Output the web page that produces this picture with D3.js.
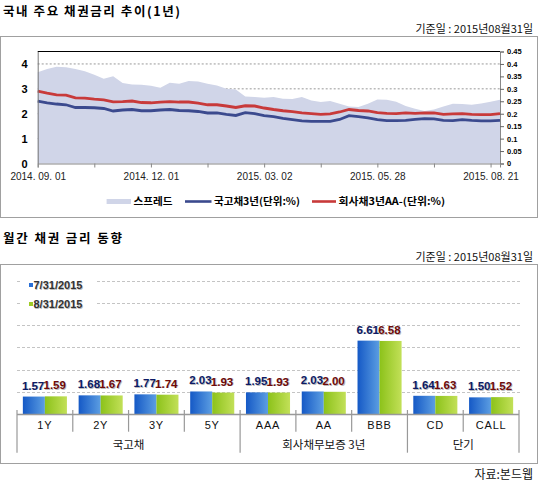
<!DOCTYPE html>
<html><head><meta charset="utf-8">
<script src="https://cdn.jsdelivr.net/npm/d3@7"></script>
<style>
body{margin:0;background:#fff;}
svg text{font-family:"Liberation Sans",Arial,sans-serif;}
svg text.kr{font-family:"Noto Sans CJK KR","Noto Sans",sans-serif;}
</style></head><body>
<svg id="c" width="548" height="486"></svg>
<script>
const spread = [0.367,0.380,0.389,0.387,0.380,0.371,0.357,0.341,0.351,0.323,
                0.317,0.316,0.312,0.304,0.324,0.320,0.331,0.329,0.320,0.313,
                0.300,0.297,0.269,0.267,0.264,0.267,0.260,0.259,0.267,0.253,
                0.247,0.251,0.240,0.229,0.227,0.240,0.257,0.256,0.248,0.231,
                0.220,0.211,0.217,0.229,0.240,0.239,0.236,0.241,0.248,0.256];
const govt3y = [2.51,2.44,2.39,2.36,2.25,2.25,2.24,2.21,2.11,2.15,
                2.17,2.12,2.12,2.15,2.17,2.13,2.12,2.09,2.03,2.03,
                1.97,1.93,2.04,2.00,1.92,1.88,1.81,1.76,1.71,1.69,
                1.69,1.69,1.77,1.92,1.88,1.83,1.76,1.72,1.72,1.73,
                1.77,1.80,1.79,1.73,1.72,1.76,1.73,1.71,1.71,1.73];
const corp3y = [2.91,2.83,2.76,2.75,2.64,2.63,2.59,2.56,2.48,2.49,
                2.51,2.45,2.44,2.47,2.49,2.47,2.47,2.43,2.36,2.36,
                2.31,2.25,2.32,2.31,2.23,2.17,2.12,2.08,2.03,2.00,
                1.97,1.99,2.07,2.17,2.13,2.11,2.04,2.01,2.00,2.03,
                2.01,2.03,2.03,1.97,1.99,2.00,1.97,1.96,1.96,2.00];
const dateTickLabels = ["2014. 09. 01","2014. 12. 01","2015. 03. 02","2015. 05. 28","2015. 08. 21"];
const leftTicks = [0,1,2,3,4];
const rightTicks = [0,0.05,0.1,0.15,0.2,0.25,0.3,0.35,0.4,0.45];
const topLegend = ["스프레드","국고채3년(단위:%)","회사채3년AA-(단위:%)"];

// ---------- bottom chart data ----------
const barCategories = ["1Y","2Y","3Y","5Y","AAA","AA","BBB","CD","CALL"];
const groupNames = ["국고채","회사채무보증 3년","단기"];
const groupSizes = [4,3,2];
const seriesNames = ["7/31/2015","8/31/2015"];
const julValues = [1.57,1.68,1.77,2.03,1.95,2.03,6.61,1.64,1.50];
const augValues = [1.59,1.67,1.74,1.93,1.93,2.00,6.58,1.63,1.52];
const barGridTicks = [2,4,6,8,10,12];

const svg = d3.select("#c");
const defs = svg.append("defs");

// ================= TOP CHART =================
svg.append("text").attr("class","kr").attr("x",3).attr("y",16)
  .attr("font-size",12.5).attr("font-weight","bold")
  .attr("textLength",177).attr("lengthAdjust","spacing")
  .text("국내 주요 채권금리 추이(1년)");
svg.append("text").attr("class","kr").attr("x",533).attr("y",33)
  .attr("font-size",11).attr("text-anchor","end").attr("fill","#111")
  .text("기준일 : 2015년08월31일");
svg.append("rect").attr("x",0.5).attr("y",36.5).attr("width",537).attr("height",181)
  .attr("fill","none").attr("stroke","#a0a0a0");

const xT = d3.scaleLinear().domain([0, spread.length-1]).range([37.7, 500]);
const yL = d3.scaleLinear().domain([0,4.5]).range([163.5,51.5]);
const yR = d3.scaleLinear().domain([0,0.45]).range([163.5,51.5]);

const gTop = svg.append("g");
gTop.selectAll("line.grid").data(leftTicks.filter(d=>d>0)).join("line")
  .attr("x1",xT(0)).attr("x2",xT(spread.length-1))
  .attr("y1",d=>yL(d)).attr("y2",d=>yL(d))
  .attr("stroke","#999").attr("stroke-dasharray","2,2");

gTop.append("path").datum(spread)
  .attr("d", d3.area().x((d,i)=>xT(i)).y0(yR(0)).y1(d=>yR(d)))
  .attr("fill","#d0d5e8");

gTop.append("path").datum(corp3y)
  .attr("d", d3.line().x((d,i)=>xT(i)).y(d=>yL(d)))
  .attr("fill","none").attr("stroke","#c83a3a").attr("stroke-width",2.8);
gTop.append("path").datum(govt3y)
  .attr("d", d3.line().x((d,i)=>xT(i)).y(d=>yL(d)))
  .attr("fill","none").attr("stroke","#3b4a8e").attr("stroke-width",2.8);

// top border
gTop.append("line").attr("x1",xT(0)).attr("x2",xT(spread.length-1))
  .attr("y1",51.5).attr("y2",51.5).attr("stroke","#000").attr("stroke-width",1.2);

// left axis
const axL = gTop.append("g").attr("transform",`translate(${xT(0)},0)`)
  .call(d3.axisLeft(yL).tickValues(leftTicks).tickSize(0).tickPadding(10).tickFormat(d3.format("d")));
axL.select(".domain").attr("stroke","#777");
axL.selectAll("text").attr("font-size",11).attr("font-weight","bold").attr("fill","#000");

// right axis
const axR = gTop.append("g").attr("transform",`translate(${xT(spread.length-1)},0)`)
  .call(d3.axisRight(yR).tickValues(rightTicks).tickSize(4).tickPadding(3)
    .tickFormat(d=>d===0?"0":String(+d.toFixed(2))));
axR.select(".domain").attr("stroke","#888");
axR.selectAll(".tick line").attr("stroke","#666");
axR.selectAll("text").attr("font-size",7.5).attr("font-weight","bold").attr("fill","#000");

// bottom axis
const tickIdx = d3.range(0, spread.length, 6);
const axB = gTop.append("g").attr("transform",`translate(0,163.5)`)
  .call(d3.axisBottom(xT).tickValues(tickIdx).tickSize(4).tickPadding(5)
    .tickFormat((d,i)=> (i%2===0 ? dateTickLabels[i/2] : "")));
axB.select(".domain").attr("stroke","#888");
axB.selectAll(".tick line").attr("stroke","#888");
axB.selectAll("text").attr("font-size",10).attr("fill","#222");

// top legend
const legY = 201.5;
const lg = svg.append("g");
lg.append("rect").attr("x",106.6).attr("y",legY-2.5).attr("width",24.4).attr("height",5).attr("fill","#d0d5e8");
lg.append("line").attr("x1",185).attr("x2",211.5).attr("y1",legY).attr("y2",legY).attr("stroke","#3b4a8e").attr("stroke-width",2.6);
lg.append("line").attr("x1",312).attr("x2",336).attr("y1",legY).attr("y2",legY).attr("stroke","#c83a3a").attr("stroke-width",2.6);
const legX = [133.6,214,338.5];
const legW = [39,86,106.5];
topLegend.forEach((t,i)=>{
  lg.append("text").attr("class","kr").attr("x",legX[i]).attr("y",legY+3.5)
    .attr("font-size",10).attr("font-weight","bold")
    .attr("textLength",legW[i]).attr("lengthAdjust","spacingAndGlyphs").text(t);
});

// ================= BOTTOM CHART =================
svg.append("text").attr("class","kr").attr("x",3).attr("y",243)
  .attr("font-size",12.5).attr("font-weight","bold")
  .attr("textLength",119).attr("lengthAdjust","spacing")
  .text("월간 채권 금리 동향");
svg.append("text").attr("class","kr").attr("x",533).attr("y",260.5)
  .attr("font-size",11).attr("text-anchor","end").attr("fill","#111")
  .text("기준일 : 2015년08월31일");
svg.append("rect").attr("x",0.5).attr("y",264.5).attr("width",537).attr("height",199)
  .attr("fill","none").attr("stroke","#a0a0a0");

const xB = d3.scaleBand().domain(barCategories).range([17,519]).paddingInner(0.21).paddingOuter(0.105);
const xS = d3.scaleBand().domain(seriesNames).range([0,xB.bandwidth()]);
const yB = d3.scaleLinear().domain([0,12]).range([414,280.8]);

const gB = svg.append("g");
gB.selectAll("line.bgrid").data(barGridTicks).join("line")
  .attr("x1",17).attr("x2",520).attr("y1",d=>Math.round(yB(d))+0.5).attr("y2",d=>Math.round(yB(d))+0.5)
  .attr("stroke","#c4c4c4").attr("stroke-dasharray","3,2");

// gradients
function grad(id, c1, c2){
  const g = defs.append("linearGradient").attr("id",id).attr("x1","0").attr("x2","1").attr("y1","0").attr("y2","0");
  g.append("stop").attr("offset","0").attr("stop-color",c1);
  g.append("stop").attr("offset","1").attr("stop-color",c2);
}
grad("gBlue","#1559c6","#5c9ee2");
grad("gGreen","#8cc21a","#c2e058");

const rows = barCategories.map((c,i)=>({cat:c, vals:[julValues[i], augValues[i]]}));
const fills = ["url(#gBlue)","url(#gGreen)"];
const lblColors = ["#0c1a66","#6e0a0a"];
const grp = gB.selectAll("g.cat").data(rows).join("g").attr("class","cat")
  .attr("transform",d=>`translate(${xB(d.cat)},0)`);
grp.selectAll("rect").data(d=>d.vals.map((v,j)=>({s:seriesNames[j],v,j}))).join("rect")
  .attr("x",d=>xS(d.s)).attr("width",xS.bandwidth())
  .attr("y",d=>yB(d.v)).attr("height",d=>yB(0)-yB(d.v))
  .attr("fill",d=>fills[d.j]);
// label shadow + label
const lblOff = [-0.8, -1.2];
grp.selectAll("text.sh").data(d=>d.vals.map((v,j)=>({s:seriesNames[j],v,j}))).join("text")
  .attr("class","sh").attr("x",d=>xS(d.s)+xS.bandwidth()/2+lblOff[d.j]+0.8).attr("y",d=>yB(d.v)-6.2)
  .attr("text-anchor","middle").attr("font-size",11.5).attr("font-weight","bold")
  .attr("fill","#bbb").text(d=>d.v.toFixed(2));
grp.selectAll("text.lb").data(d=>d.vals.map((v,j)=>({s:seriesNames[j],v,j}))).join("text")
  .attr("class","lb").attr("x",d=>xS(d.s)+xS.bandwidth()/2+lblOff[d.j]).attr("y",d=>yB(d.v)-7)
  .attr("text-anchor","middle").attr("font-size",11.5).attr("font-weight","bold")
  .attr("fill",d=>lblColors[d.j]).text(d=>d.v.toFixed(2));

// axis & separators
const step = xB.step();
const x0 = xB.range()[0];
gB.append("line").attr("x1",17).attr("x2",519).attr("y1",414.5).attr("y2",414.5).attr("stroke","#999").attr("stroke-width",1.5);
const groupBounds = [0];
groupSizes.forEach(s=>groupBounds.push(groupBounds[groupBounds.length-1]+s));
d3.range(barCategories.length+1).forEach(k=>{
  const isG = groupBounds.includes(k);
  gB.append("line").attr("x1",x0+k*step).attr("x2",x0+k*step)
    .attr("y1",410).attr("y2",isG?452.7:431.7).attr("stroke","#999").attr("stroke-width",1.2);
});
gB.selectAll("text.cat").data(barCategories).join("text").attr("class","cat")
  .attr("x",d=>xB(d)+xB.bandwidth()/2).attr("y",429).attr("text-anchor","middle")
  .attr("font-size",11).attr("fill","#111").attr("letter-spacing",0.8).text(d=>d);
groupNames.forEach((g,i)=>{
  const cx = x0 + (groupBounds[i]+groupBounds[i+1])/2*step;
  gB.append("text").attr("class","kr").attr("x",cx).attr("y",449).attr("text-anchor","middle")
    .attr("font-size",11.5).attr("fill","#111").text(g);
});

// bottom legend (white box over grid)
gB.append("rect").attr("x",20).attr("y",272).attr("width",76).attr("height",40).attr("fill","#fff");
const legColors = ["#2a6fd6","#9fcb26"];
seriesNames.forEach((s,i)=>{
  const y = 285 + i*19;
  gB.append("rect").attr("x",29).attr("y",y-2).attr("width",4).attr("height",4).attr("fill",legColors[i]);
  gB.append("text").attr("x",33.5+0.6).attr("y",y+4.6).attr("font-size",11).attr("font-weight","bold")
    .attr("fill","#bbb").text(s);
  gB.append("text").attr("x",33.5).attr("y",y+4).attr("font-size",11).attr("font-weight","bold")
    .attr("fill","#333").text(s);
});

svg.append("text").attr("class","kr").attr("x",533).attr("y",479).attr("text-anchor","end")
  .attr("font-size",12).attr("fill","#111").text("자료:본드웹");
</script>
</body></html>
